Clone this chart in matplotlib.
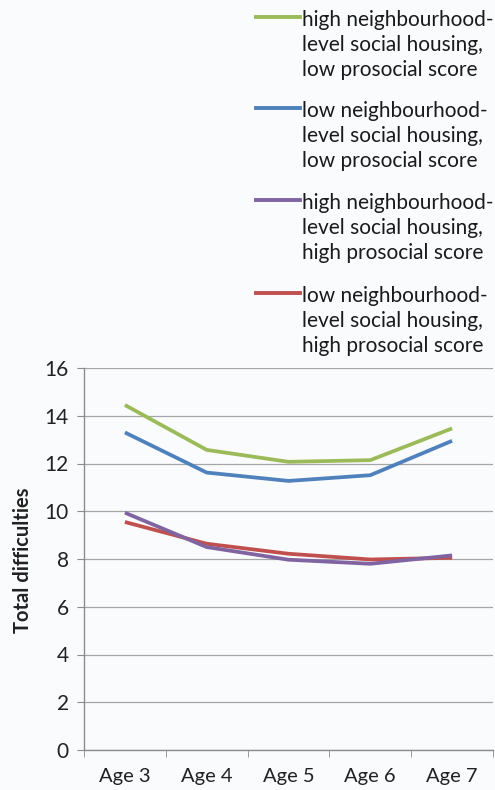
import matplotlib
matplotlib.use('Agg')
import matplotlib.pyplot as plt
from matplotlib.lines import Line2D

plt.rcParams['font.family'] = ['Lato', 'DejaVu Sans']

ages = ['Age 3', 'Age 4', 'Age 5', 'Age 6', 'Age 7']
high_soc_low_pro = [14.45, 12.57, 12.07, 12.14, 13.47]
low_soc_low_pro = [13.3, 11.62, 11.27, 11.51, 12.95]
high_soc_high_pro = [9.94, 8.5, 7.97, 7.8, 8.15]
low_soc_high_pro = [9.55, 8.64, 8.22, 7.98, 8.05]

labels = ['high neighbourhood-\nlevel social housing,\nlow prosocial score',
          'low neighbourhood-\nlevel social housing,\nlow prosocial score',
          'high neighbourhood-\nlevel social housing,\nhigh prosocial score',
          'low neighbourhood-\nlevel social housing,\nhigh prosocial score']
colors = ['#9BBB59', '#4F81BD', '#8064A2', '#C0504D']
series = [high_soc_low_pro, low_soc_low_pro, high_soc_high_pro, low_soc_high_pro]

fig = plt.figure(figsize=(4.95, 7.9), dpi=100, facecolor='#fafbfd')
ax = fig.add_axes([84 / 495, 1 - 750 / 790, 409 / 495, 382 / 790])
ax.set_facecolor('#fafbfd')

x = list(range(len(ages)))
# draw red first so purple sits on top like the original
for i in [3, 2, 1, 0]:
    ax.plot(x, series[i], color=colors[i], linewidth=2.7, solid_capstyle='butt')

ax.set_xlim(-0.5, len(ages) - 0.5)
ax.set_ylim(0, 16)
ax.set_yticks(range(0, 17, 2))
ax.yaxis.grid(True, color='#a6a6a6', linewidth=0.9)
ax.set_axisbelow(True)
ax.set_xticks(x)
ax.set_xticklabels(ages, fontsize=14.5, color='#222222')
ax.set_xticks([i - 0.5 for i in range(len(ages) + 1)], minor=True)
ax.tick_params(axis='x', which='major', length=0, pad=13)
ax.tick_params(axis='x', which='minor', length=5, color='#8c8c8c', direction='out')
ax.tick_params(axis='y', length=5, color='#8c8c8c', labelsize=15, labelcolor='#222222', pad=6)
for s in ['top', 'right']:
    ax.spines[s].set_visible(False)
for s in ['left', 'bottom']:
    ax.spines[s].set_color('#8c8c8c')
    ax.spines[s].set_linewidth(1.0)

fig.text(23 / 495, 1 - 560 / 790, 'Total difficulties', rotation=90, fontsize=14.5,
         fontweight='bold', ha='center', va='center', color='#222222')

# legend drawn at the top right, handle next to the first text line
legend_y = [17, 108, 200, 293]
for ly, lab, col in zip(legend_y, labels, colors):
    yf = 1 - ly / 790
    fig.add_artist(Line2D([256 / 495, 300 / 495], [yf, yf], color=col, linewidth=2.8,
                          transform=fig.transFigure))
    fig.text(302 / 495, 1 - (ly - 7) / 790, lab, fontsize=15, ha='left', va='top',
             linespacing=1.3, color='#1a1a1a')

fig.savefig('out.png', dpi=100, facecolor=fig.get_facecolor())
